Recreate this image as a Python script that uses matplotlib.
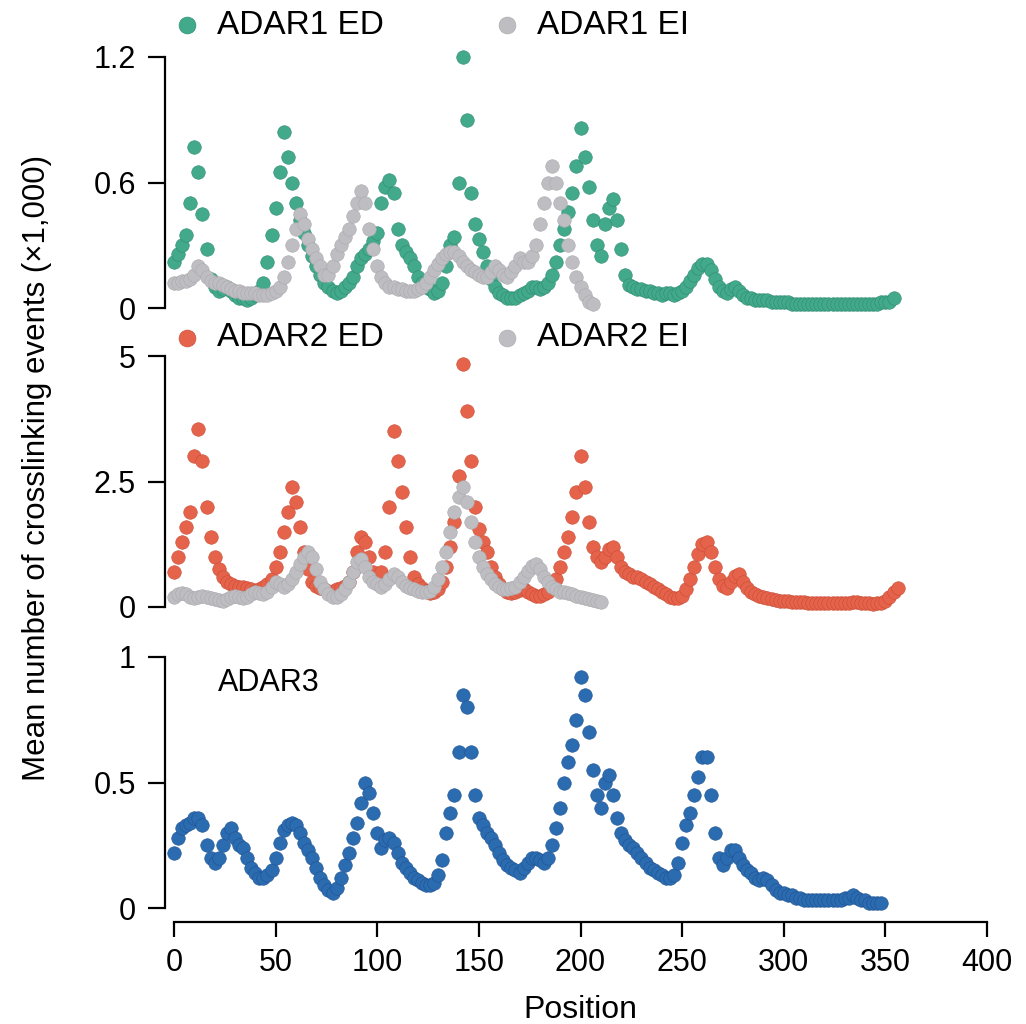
import numpy as np
import matplotlib
matplotlib.use('Agg')
import matplotlib.pyplot as plt

COLORS = {
    'adar1_ed': ('#42a98b', '#2e8a70'),
    'adar2_ed': ('#e6634b', '#c94a35'),
    'adar3': ('#2b6bb0', '#1e5291'),
    'ei': ('#bebec2', '#a9a9ae'),
}

# positions (every 2nd position)
pos_adar1_ed = np.arange(0, 356, 2)
pos_adar1_ei = np.arange(0, 208, 2)
pos_adar2_ed = np.arange(0, 358, 2)
pos_adar2_ei = np.arange(0, 212, 2)
pos_adar3 = np.arange(0, 350, 2)

# values in thousands of crosslinking events
adar1_ed = [
    0.22, 0.26, 0.30, 0.35, 0.50, 0.77, 0.65, 0.45, 0.28, 0.14,
    0.10, 0.08, 0.09, 0.10, 0.08, 0.06, 0.05, 0.05, 0.04, 0.05,
    0.06, 0.08, 0.12, 0.22, 0.35, 0.48, 0.65, 0.84, 0.72, 0.60,
    0.50, 0.42, 0.36, 0.30, 0.25, 0.20, 0.16, 0.12, 0.10, 0.08,
    0.07, 0.08, 0.10, 0.12, 0.15, 0.20, 0.24, 0.26, 0.28, 0.32,
    0.36, 0.50, 0.58, 0.61, 0.55, 0.38, 0.30, 0.27, 0.24, 0.20,
    0.15, 0.12, 0.10, 0.09, 0.07, 0.08, 0.12, 0.20, 0.30, 0.34,
    0.60, 1.20, 0.90, 0.55, 0.40, 0.33, 0.27, 0.20, 0.14, 0.10,
    0.07, 0.06, 0.05, 0.05, 0.05, 0.06, 0.07, 0.08, 0.10, 0.10,
    0.09, 0.10, 0.12, 0.16, 0.22, 0.30, 0.38, 0.46, 0.55, 0.68,
    0.86, 0.72, 0.58, 0.42, 0.30, 0.25, 0.40, 0.48, 0.52, 0.42,
    0.28, 0.16, 0.11, 0.10, 0.09, 0.09, 0.08, 0.08, 0.07, 0.07,
    0.06, 0.07, 0.07, 0.06, 0.07, 0.08, 0.10, 0.13, 0.16, 0.19,
    0.21, 0.21, 0.18, 0.14, 0.10, 0.08, 0.07, 0.09, 0.10, 0.08,
    0.06, 0.05, 0.05, 0.04, 0.04, 0.04, 0.04, 0.03, 0.03, 0.03,
    0.03, 0.03, 0.02, 0.02, 0.02, 0.02, 0.02, 0.02, 0.02, 0.02,
    0.02, 0.02, 0.02, 0.02, 0.02, 0.02, 0.02, 0.02, 0.02, 0.02,
    0.02, 0.02, 0.02, 0.02, 0.03, 0.03, 0.03, 0.05,
]
adar1_ei = [
    0.12, 0.12, 0.13, 0.13, 0.14, 0.16, 0.20, 0.18, 0.15, 0.13,
    0.12, 0.12, 0.11, 0.10, 0.09, 0.08, 0.08, 0.07, 0.07, 0.07,
    0.07, 0.06, 0.06, 0.06, 0.07, 0.08, 0.10, 0.15, 0.22, 0.30,
    0.38, 0.45, 0.40, 0.33, 0.28, 0.24, 0.20, 0.16, 0.16, 0.20,
    0.26, 0.30, 0.34, 0.38, 0.44, 0.50, 0.56, 0.50, 0.38, 0.28,
    0.20, 0.15, 0.12, 0.10, 0.10, 0.09, 0.09, 0.08, 0.08, 0.08,
    0.09, 0.10, 0.12, 0.15, 0.18, 0.21, 0.24, 0.26, 0.27, 0.27,
    0.25, 0.22, 0.20, 0.18, 0.17, 0.16, 0.15, 0.15, 0.17, 0.20,
    0.18, 0.16, 0.15, 0.17, 0.20, 0.24, 0.22, 0.22, 0.25, 0.30,
    0.40, 0.50, 0.60, 0.68, 0.60, 0.50, 0.42, 0.30, 0.22, 0.15,
    0.10, 0.06, 0.03, 0.02,
]
adar2_ed = [
    0.70, 1.00, 1.30, 1.60, 1.90, 3.00, 3.55, 2.90, 2.00, 1.40,
    1.00, 0.75, 0.60, 0.50, 0.45, 0.42, 0.40, 0.40, 0.38, 0.35,
    0.32, 0.35, 0.40, 0.45, 0.55, 0.80, 1.10, 1.50, 1.90, 2.40,
    2.10, 1.60, 1.10, 0.75, 0.50, 0.42, 0.38, 0.35, 0.32, 0.32,
    0.35, 0.38, 0.42, 0.50, 0.70, 1.10, 1.40, 1.30, 1.00, 0.70,
    0.55, 0.70, 1.10, 2.00, 3.50, 2.90, 2.30, 1.60, 1.00, 0.60,
    0.45, 0.38, 0.32, 0.28, 0.30, 0.35, 0.50, 0.80, 1.20, 1.70,
    2.60, 4.85, 3.90, 2.90, 2.00, 1.55, 1.30, 1.10, 0.80, 0.60,
    0.45, 0.35, 0.30, 0.28, 0.30, 0.33, 0.35, 0.30, 0.25, 0.22,
    0.22, 0.25, 0.30, 0.40, 0.55, 0.80, 1.10, 1.40, 1.80, 2.30,
    3.00, 2.40, 1.70, 1.20, 1.00, 0.90, 1.00, 1.15, 1.20, 1.00,
    0.80, 0.70, 0.65, 0.60, 0.60, 0.55, 0.50, 0.45, 0.40, 0.35,
    0.30, 0.25, 0.20, 0.17, 0.18, 0.22, 0.35, 0.55, 0.80, 1.05,
    1.25, 1.30, 1.10, 0.80, 0.55, 0.42, 0.38, 0.50, 0.62, 0.65,
    0.50, 0.38, 0.30, 0.25, 0.22, 0.20, 0.18, 0.15, 0.13, 0.12,
    0.12, 0.11, 0.10, 0.10, 0.10, 0.09, 0.08, 0.08, 0.07, 0.07,
    0.07, 0.07, 0.07, 0.07, 0.08, 0.08, 0.08, 0.09, 0.09, 0.08,
    0.07, 0.07, 0.06, 0.07, 0.08, 0.12, 0.20, 0.30, 0.38,
]
adar2_ei = [
    0.20, 0.25, 0.28, 0.25, 0.20, 0.18, 0.20, 0.22, 0.20, 0.18,
    0.15, 0.13, 0.12, 0.15, 0.20, 0.22, 0.20, 0.18, 0.20, 0.25,
    0.30, 0.28, 0.25, 0.30, 0.40, 0.50, 0.45, 0.40, 0.45, 0.55,
    0.70, 0.85, 1.00, 1.10, 1.00, 0.75, 0.50, 0.35, 0.25, 0.20,
    0.20, 0.25, 0.35, 0.50, 0.70, 0.90, 0.95, 0.80, 0.60, 0.50,
    0.45, 0.40, 0.45, 0.55, 0.65, 0.60, 0.50, 0.42, 0.38, 0.35,
    0.32, 0.30, 0.30, 0.32, 0.40, 0.55, 0.80, 1.10, 1.50, 1.90,
    2.20, 2.40, 2.10, 1.70, 1.30, 1.00, 0.80, 0.65, 0.55, 0.45,
    0.40, 0.35, 0.35, 0.38, 0.40, 0.50, 0.60, 0.72, 0.82, 0.85,
    0.75, 0.60, 0.50, 0.40, 0.35, 0.30, 0.30, 0.28, 0.25, 0.22,
    0.20, 0.18, 0.15, 0.13, 0.12, 0.10,
]
adar3 = [
    0.22, 0.28, 0.32, 0.33, 0.34, 0.36, 0.36, 0.33, 0.25, 0.20,
    0.18, 0.20, 0.25, 0.30, 0.32, 0.28, 0.25, 0.24, 0.20, 0.16,
    0.14, 0.12, 0.12, 0.13, 0.15, 0.20, 0.26, 0.31, 0.33, 0.34,
    0.33, 0.30, 0.26, 0.23, 0.20, 0.16, 0.12, 0.09, 0.07, 0.06,
    0.08, 0.12, 0.17, 0.22, 0.28, 0.34, 0.42, 0.50, 0.46, 0.38,
    0.30, 0.24, 0.27, 0.28, 0.26, 0.22, 0.18, 0.16, 0.14, 0.12,
    0.11, 0.10, 0.09, 0.09, 0.10, 0.13, 0.19, 0.30, 0.38, 0.45,
    0.62, 0.85, 0.80, 0.62, 0.45, 0.36, 0.33, 0.30, 0.28, 0.25,
    0.22, 0.19, 0.17, 0.16, 0.15, 0.14, 0.16, 0.18, 0.20, 0.20,
    0.19, 0.18, 0.20, 0.25, 0.32, 0.40, 0.50, 0.58, 0.65, 0.75,
    0.92, 0.85, 0.70, 0.55, 0.45, 0.40, 0.50, 0.53, 0.45, 0.36,
    0.30, 0.27, 0.25, 0.24, 0.22, 0.20, 0.18, 0.16, 0.15, 0.14,
    0.13, 0.12, 0.12, 0.13, 0.18, 0.26, 0.33, 0.38, 0.45, 0.52,
    0.60, 0.60, 0.45, 0.30, 0.20, 0.17, 0.20, 0.23, 0.23, 0.20,
    0.17, 0.15, 0.14, 0.12, 0.11, 0.12, 0.11, 0.09, 0.07, 0.06,
    0.06, 0.05, 0.05, 0.04, 0.04, 0.03, 0.03, 0.03, 0.03, 0.03,
    0.03, 0.03, 0.03, 0.03, 0.03, 0.04, 0.04, 0.05, 0.04, 0.03,
    0.03, 0.02, 0.02, 0.02, 0.02,
]

plt.rcParams['font.family'] = ['Liberation Sans', 'DejaVu Sans']

W, H = 1026, 1024
fig = plt.figure(figsize=(W / 100, H / 100), dpi=100)

# axes boxes in pixels: left spine x, top and bottom of y range
left_px, right_px = 165, 987
panels_px = [(57, 308), (356, 607), (657, 908)]
x_per_px = 400 / (987 - 174)
xmin = -(174 - left_px) * x_per_px


def make_axes(top, bottom):
    ax = fig.add_axes([left_px / W, 1 - bottom / H,
                       (right_px - left_px) / W, (bottom - top) / H])
    for side in ['top', 'right', 'bottom']:
        ax.spines[side].set_visible(False)
    ax.spines['left'].set_linewidth(1.6)
    ax.set_xlim(xmin, 400)
    ax.tick_params(axis='y', length=12, width=1.6, pad=9, labelsize=22)
    ax.tick_params(axis='x', bottom=False, labelbottom=False)
    ax.patch.set_alpha(0)
    return ax


def dots(ax, x, y, key, label=None):
    face, edge = COLORS[key]
    ax.scatter(x, y, s=95, color=face, edgecolor=edge, linewidth=0.4,
               clip_on=False, label=label, zorder=3)


ax1 = make_axes(*panels_px[0])
dots(ax1, pos_adar1_ed, adar1_ed, 'adar1_ed', 'ADAR1 ED')
dots(ax1, pos_adar1_ei, adar1_ei, 'ei', 'ADAR1 EI')
ax1.set_ylim(0, 1.2)
ax1.set_yticks([0, 0.6, 1.2])
ax1.set_yticklabels(['0', '0.6', '1.2'])

ax2 = make_axes(*panels_px[1])
dots(ax2, pos_adar2_ed, adar2_ed, 'adar2_ed', 'ADAR2 ED')
dots(ax2, pos_adar2_ei, adar2_ei, 'ei', 'ADAR2 EI')
ax2.set_ylim(0, 5)
ax2.set_yticks([0, 2.5, 5])
ax2.set_yticklabels(['0', '2.5', '5'])

ax3 = make_axes(*panels_px[2])
dots(ax3, pos_adar3, adar3, 'adar3')
ax3.set_ylim(0, 1)
ax3.set_yticks([0, 0.5, 1])
ax3.set_yticklabels(['0', '0.5', '1'])
ax3.spines['bottom'].set_visible(True)
ax3.spines['bottom'].set_position(('outward', 10))
ax3.spines['bottom'].set_bounds(0, 400)
ax3.spines['bottom'].set_linewidth(1.6)
ax3.set_xticks(np.arange(0, 401, 50))
ax3.tick_params(axis='x', bottom=True, labelbottom=True, length=11,
                width=1.6, pad=8, labelsize=22)
ax3.text((218 - left_px) / (right_px - left_px), (908 - 683) / 251, 'ADAR3',
         transform=ax3.transAxes, fontsize=22, ha='left', va='center')

for ax, (top, bottom), ly in [(ax1, panels_px[0], 25), (ax2, panels_px[1], 338)]:
    ax.legend(loc='center left', ncol=2, frameon=False, fontsize=24,
              bbox_to_anchor=((177 - left_px) / (right_px - left_px),
                              (bottom - ly) / (bottom - top)),
              borderpad=0, borderaxespad=0, handlelength=0.6,
              handletextpad=0.6, columnspacing=3.4, markerscale=1.25,
              scatterpoints=1)

fig.text(37 / W, 1 - 468 / H, 'Mean number of crosslinking events (\u00d71,000)',
         rotation=90, ha='center', va='center', fontsize=22.5)
fig.text(580 / W, 1 - 1010 / H, 'Position', ha='center', va='center',
         fontsize=23)

fig.savefig('out.png', dpi=100)
